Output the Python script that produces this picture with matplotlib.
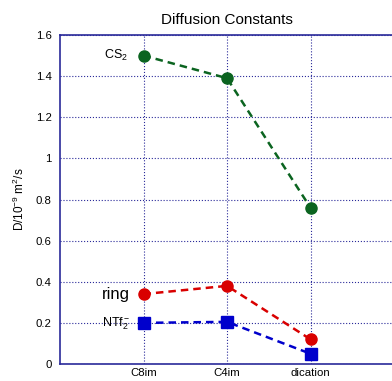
import matplotlib
matplotlib.use('Agg')
import matplotlib.pyplot as plt
from matplotlib.ticker import FormatStrFormatter

plt.rcParams['font.family'] = ['Liberation Sans', 'DejaVu Sans']
plt.rcParams['mathtext.fontset'] = 'custom'
plt.rcParams['mathtext.rm'] = 'Liberation Sans'
plt.rcParams['mathtext.it'] = 'Liberation Sans'

categories = ['C8im', 'C4im', 'dication']
cs2 = [1.50, 1.39, 0.76]
ring = [0.34, 0.38, 0.12]
ntf2 = [0.20, 0.205, 0.05]

x = [1, 2, 3]
navy = '#2a2a9a'

fig = plt.figure(figsize=(3.92, 3.81), dpi=100)
ax = fig.add_axes([60/392, 17/381, 334/392, 329/381])

ax.plot(x, cs2, '--o', color='#0b6420', ms=8, lw=1.8, dashes=(3, 2))
ax.plot(x, ring, '--o', color='#d90000', ms=8, lw=1.8, dashes=(3, 2))
ax.plot(x, ntf2, '--s', color='#0000cc', ms=8, lw=1.8, dashes=(3, 2))

ax.set_xlim(0, 4)
ax.set_ylim(0, 1.6)
ax.set_xticks(x)
ax.set_xticklabels(categories)
ax.set_yticks([0, 0.2, 0.4, 0.6, 0.8, 1.0, 1.2, 1.4, 1.6])
ax.yaxis.set_major_formatter(FormatStrFormatter('%g'))
ax.tick_params(length=0, labelsize=8.2)
ax.tick_params(axis='y', pad=6)
ax.tick_params(axis='x', pad=3)
ax.grid(True, color=navy, ls=':', lw=0.8)
for s in ax.spines.values():
    s.set_color(navy)
    s.set_linewidth(1.2)

ax.text(0.67, 1.5, 'CS$_2$', fontsize=9, ha='center', va='center')
ax.text(0.67, 0.34, 'ring', fontsize=12, ha='center', va='center')
ax.text(0.67, 0.195, 'NTf$_2^-$', fontsize=9, ha='center', va='center')

ax.set_title('Diffusion Constants', fontsize=11, pad=8)
ax.set_ylabel('D/10$^{-9}$ m$^2$/s', fontsize=8.5, labelpad=6)

fig.savefig('out.png', dpi=100)
